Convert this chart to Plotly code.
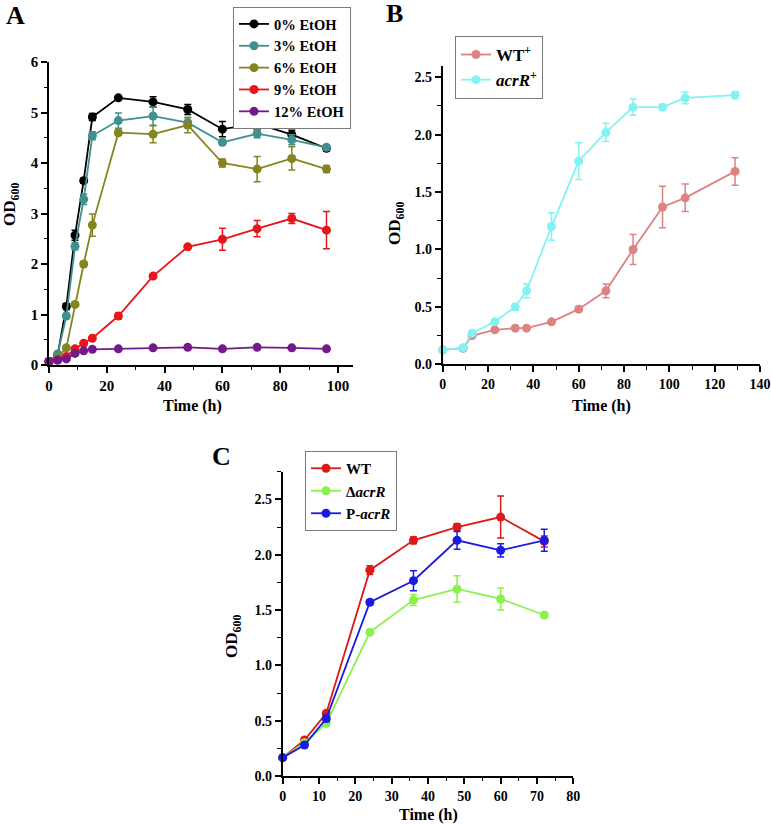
import plotly.graph_objects as go

W, H = 771, 824

# ---------------- Data ----------------
# Panel A: growth at different ethanol concentrations
time_a = [0, 3, 6, 9, 12, 15, 24, 36, 48, 60, 72, 84, 96]
etoh_0 = [0.07, 0.20, 1.16, 2.57, 3.65, 4.91, 5.29, 5.21, 5.06, 4.67, 4.78, 4.56, 4.29]
etoh_0_err = [0.01, 0.03, 0.06, 0.10, 0.05, 0.07, 0.03, 0.10, 0.10, 0.15, 0.12, 0.09, 0.05]
etoh_3 = [0.07, 0.22, 0.97, 2.35, 3.28, 4.54, 4.84, 4.93, 4.80, 4.41, 4.58, 4.46, 4.31]
etoh_3_err = [0.01, 0.03, 0.05, 0.07, 0.10, 0.08, 0.15, 0.18, 0.10, 0.05, 0.08, 0.10, 0.05]
etoh_6 = [0.07, 0.15, 0.34, 1.20, 2.00, 2.77, 4.60, 4.57, 4.75, 4.00, 3.88, 4.09, 3.88]
etoh_6_err = [0.01, 0.02, 0.03, 0.04, 0.05, 0.22, 0.05, 0.17, 0.15, 0.08, 0.25, 0.23, 0.07]
etoh_9 = [0.07, 0.10, 0.17, 0.32, 0.43, 0.53, 0.97, 1.76, 2.34, 2.49, 2.70, 2.90, 2.67]
etoh_9_err = [0.01, 0.01, 0.02, 0.03, 0.03, 0.03, 0.06, 0.03, 0.04, 0.22, 0.16, 0.10, 0.37]
etoh_12 = [0.07, 0.10, 0.12, 0.23, 0.28, 0.31, 0.32, 0.34, 0.35, 0.32, 0.35, 0.34, 0.32]
etoh_12_err = [0.01, 0.01, 0.01, 0.01, 0.01, 0.01, 0.01, 0.01, 0.01, 0.01, 0.01, 0.01, 0.01]

# Panel B
time_b = [0, 9, 13, 23, 32, 37, 48, 60, 72, 84, 97, 107, 129]
wt_plus = [0.125, 0.14, 0.25, 0.30, 0.315, 0.315, 0.37, 0.48, 0.64, 1.00, 1.37, 1.45, 1.68]
wt_plus_err = [0.01, 0.01, 0.01, 0.01, 0.01, 0.01, 0.01, 0.02, 0.06, 0.13, 0.18, 0.12, 0.12]
acrr_plus = [0.125, 0.145, 0.27, 0.37, 0.50, 0.64, 1.20, 1.77, 2.02, 2.24, 2.24, 2.32, 2.345]
acrr_plus_err = [0.01, 0.01, 0.01, 0.01, 0.03, 0.06, 0.12, 0.16, 0.08, 0.07, 0.02, 0.05, 0.03]

# Panel C
time_c = [0, 6, 12, 24, 36, 48, 60, 72]
wt = [0.166, 0.325, 0.566, 1.86, 2.13, 2.25, 2.34, 2.12]
wt_err = [0.01, 0.02, 0.02, 0.04, 0.03, 0.03, 0.19, 0.05]
d_acrr = [0.166, 0.30, 0.475, 1.30, 1.59, 1.69, 1.60, 1.455]
d_acrr_err = [0.01, 0.02, 0.02, 0.02, 0.05, 0.12, 0.10, 0.02]
p_acrr = [0.166, 0.28, 0.52, 1.57, 1.765, 2.13, 2.04, 2.13]
p_acrr_err = [0.01, 0.02, 0.03, 0.02, 0.09, 0.08, 0.06, 0.10]

FONT = "Liberation Serif"


def fx(x):
    return x / W


def fy(y):
    return 1 - y / H


fig = go.Figure()


def add(x, y, err, name, color, xa, ya, legend, size=9):
    fig.add_trace(go.Scatter(
        x=x, y=y, name=name, mode="lines+markers",
        line=dict(color=color, width=1.8),
        marker=dict(color=color, size=size, symbol="circle"),
        error_y=dict(type="data", array=err, visible=True, color=color,
                     thickness=1.5, width=3.5),
        xaxis=xa, yaxis=ya, legend=legend, cliponaxis=False,
    ))


add(time_a, etoh_0, etoh_0_err, "0% EtOH", "#000000", "x", "y", "legend")
add(time_a, etoh_3, etoh_3_err, "3% EtOH", "#428f8f", "x", "y", "legend")
add(time_a, etoh_6, etoh_6_err, "6% EtOH", "#85841f", "x", "y", "legend")
add(time_a, etoh_9, etoh_9_err, "9% EtOH", "#e8161b", "x", "y", "legend")
add(time_a, etoh_12, etoh_12_err, "12% EtOH", "#731a8a", "x", "y", "legend")

add(time_b, wt_plus, wt_plus_err, "WT<sup>+</sup>", "#de8282", "x2", "y2", "legend2")
add(time_b, acrr_plus, acrr_plus_err, "<i>acrR</i><sup>+</sup>", "#82f2f2", "x2", "y2", "legend2")

add(time_c, wt, wt_err, "WT", "#dd1a1a", "x3", "y3", "legend3")
add(time_c, d_acrr, d_acrr_err, "Δ<i>acrR</i>", "#8cf04f", "x3", "y3", "legend3")
add(time_c, p_acrr, p_acrr_err, "P-<i>acrR</i>", "#1a1ae0", "x3", "y3", "legend3")


def axis(domain, rng, dtick, minor, anchor, fmt=None, fs=14):
    d = dict(domain=domain, range=rng, dtick=dtick, tick0=0, anchor=anchor,
             automargin=False,
             showline=True, linecolor="black", linewidth=1.6, mirror=False,
             ticks="outside", ticklen=6, tickwidth=1.5, tickcolor="black",
             minor=dict(ticks="outside", ticklen=3.5, tickwidth=1.3,
                        tickcolor="black", dtick=minor, tick0=0),
             showgrid=False, zeroline=False, fixedrange=True,
             tickfont=dict(family=FONT, size=fs, color="black", weight="bold"))
    if fmt:
        d["tickformat"] = fmt
    return d


xa_dom = [fx(49), fx(352.5)]
ya_dom = [fy(365), fy(62)]
xb_dom = [fx(442.7), fx(760)]
yb_dom = [fy(364.3), fy(65.8)]
xc_dom = [fx(282.7), fx(573.3)]
yc_dom = [fy(776), fy(471.7)]

legend_common = dict(bgcolor="white", bordercolor="#7a7a7a", borderwidth=1,
                     xanchor="left", yanchor="top", itemwidth=30,
                     xref="container", yref="container",
                     tracegroupgap=0, itemclick=False)

fig.update_layout(
    width=W, height=H, margin=dict(l=0, r=0, t=0, b=0, autoexpand=False),
    paper_bgcolor="white", plot_bgcolor="white",
    font=dict(family=FONT, color="black", weight="bold"),
    xaxis=axis(xa_dom, [0, 105], 20, 10, "y", fs=15),
    yaxis=axis(ya_dom, [0, 6], 1, 0.5, "x", fs=15),
    xaxis2=axis(xb_dom, [0, 140], 20, 10, "y2", fs=14),
    yaxis2=axis(yb_dom, [0, 2.6], 0.5, 0.25, "x2", fmt=".1f", fs=14),
    xaxis3=axis(xc_dom, [0, 80], 10, 5, "y3", fs=14),
    yaxis3=axis(yc_dom, [0, 2.75], 0.5, 0.25, "x3", fmt=".1f", fs=14),
    legend=dict(x=fx(233), y=fy(7),
                font=dict(family=FONT, size=14.5, color="black", weight="bold"),
                **legend_common),
    legend2=dict(x=fx(455), y=fy(36),
                 font=dict(family=FONT, size=17, color="black", weight="bold"),
                 **legend_common),
    legend3=dict(x=fx(305), y=fy(451),
                 font=dict(family=FONT, size=15, color="black", weight="bold"),
                 **legend_common),
    showlegend=True,
)

annotations = []


def text(x, y, s, size, angle=0):
    annotations.append(dict(x=fx(x), y=fy(y), xref="paper", yref="paper", text=s,
                            showarrow=False, xanchor="center", yanchor="middle",
                            textangle=angle,
                            font=dict(family=FONT, size=size, color="black",
                                      weight="bold")))


# panel letters
text(15, 15, "A", 26)
text(395, 14, "B", 26)
text(222, 456, "C", 26)
# axis titles
text(192, 406, "Time (h)", 16)
text(601, 406, "Time (h)", 16)
text(428, 815, "Time (h)", 16)
text(11, 205, "OD<sub>600</sub>", 17, -90)
text(396, 223, "OD<sub>600</sub>", 17, -90)
text(233, 636, "OD<sub>600</sub>", 17, -90)

fig.update_layout(annotations=annotations)

fig.write_html("out.html",
               config={"displayModeBar": False},
               post_script="document.body.style.margin='0px';"
                           "document.body.style.overflow='hidden';")
